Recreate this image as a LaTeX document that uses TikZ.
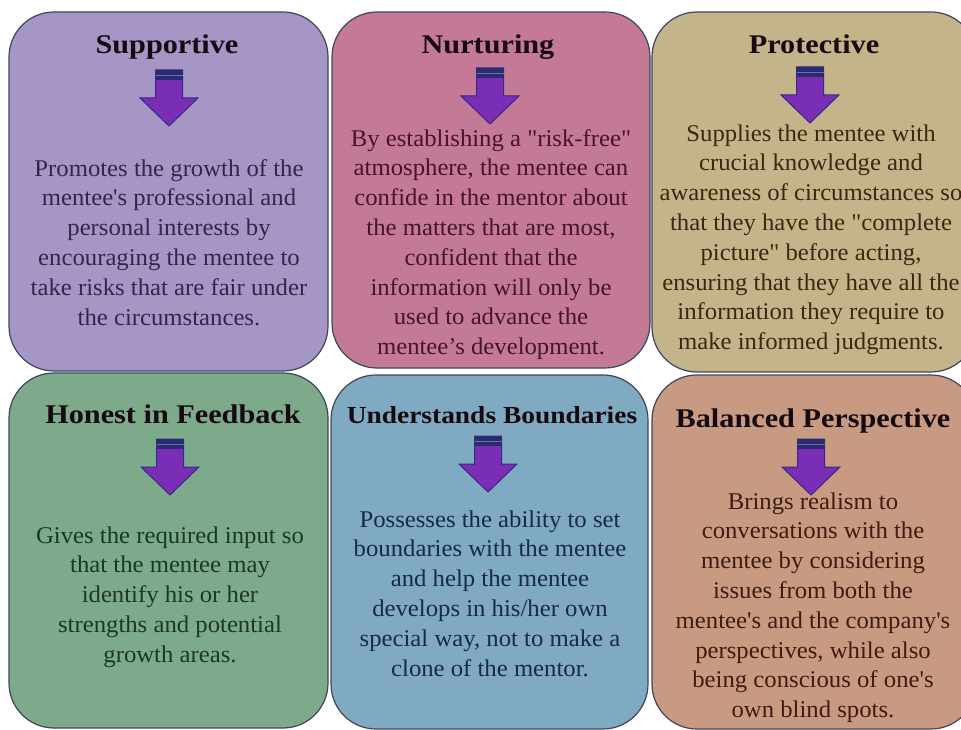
\documentclass[tikz,border=0pt]{standalone}
\usepackage{fontspec}
\setmainfont{Liberation Serif}
\newfontfamily\titlefont[FakeStretch=1.12]{Liberation Serif}
\newfontfamily\bodyfont[FakeStretch=1.03]{Liberation Serif}
\definecolor{cA}{RGB}{166,150,198}
\definecolor{cB}{RGB}{196,122,150}
\definecolor{cC}{RGB}{196,180,138}
\definecolor{cD}{RGB}{126,170,140}
\definecolor{cE}{RGB}{127,170,193}
\definecolor{cF}{RGB}{200,154,130}
\definecolor{tA}{RGB}{52,38,72}
\definecolor{tB}{RGB}{70,20,44}
\definecolor{tC}{RGB}{58,40,18}
\definecolor{tD}{RGB}{28,56,36}
\definecolor{tE}{RGB}{24,42,70}
\definecolor{tF}{RGB}{62,28,18}
\definecolor{titlecol}{RGB}{22,10,16}
\definecolor{edgecol}{RGB}{62,70,92}
\definecolor{arrowfill}{RGB}{122,46,182}
\definecolor{arrowedge}{RGB}{52,44,130}
\definecolor{arrowband}{RGB}{40,44,112}
\begin{document}
\begin{tikzpicture}[x=1pt,y=-1pt,
  card/.style={draw=edgecol,line width=1.2pt,rounded corners=45pt},
  ttl/.style={anchor=base,inner sep=0pt,text=titlecol,font=\titlefont\bfseries\fontsize{27}{32}\selectfont},
  body/.style={anchor=north,inner sep=0pt,align=center,font=\bodyfont\fontsize{24}{29.8}\selectfont},
  bigarrow/.pic={
    \filldraw[fill=arrowfill,draw=arrowedge,line width=1pt]
      (-13.5,0) -- (13.5,0) -- (13.5,28) -- (29,28) -- (0,56) -- (-29,28) -- (-13.5,28) -- cycle;
    \fill[arrowband] (-13.5,0) rectangle (13.5,10);
    \draw[cA!60!arrowband,line width=0.8pt] (-13.5,5) -- (13.5,5);
  }]
\useasboundingbox (0,0) rectangle (961,730);
\clip (0,0) rectangle (961,730);
% cards
\path[card,fill=cA] (9,12) rectangle (328,371);
\path[card,fill=cB] (332,12) rectangle (650,368);
\path[card,fill=cC] (652,12) rectangle (976,372);
\path[card,fill=cD] (9,373) rectangle (328,728);
\path[card,fill=cE] (331,375) rectangle (648,729);
\path[card,fill=cF] (652,375) rectangle (976,729);
% titles
\node[ttl] (tA) at (167,54) {Supportive};
\node[ttl] (tB) at (488,54) {Nurturing};
\node[ttl] (tC) at (814,54) {Protective};
\node[ttl] (tD) at (173,423) {Honest in Feedback};
\node[ttl,font=\titlefont\bfseries\fontsize{24.5}{30}\selectfont] (tE) at (492,423) {Understands Boundaries};
\node[ttl] (tF) at (813,427) {Balanced Perspective};
% arrows
\pic (aA) at (169,70) {bigarrow};
\pic (aB) at (490,68) {bigarrow};
\pic (aC) at (810,67) {bigarrow};
\pic (aD) at (170,439) {bigarrow};
\pic (aE) at (488,436) {bigarrow};
\pic (aF) at (811,439) {bigarrow};
% bodies
\node[body,text=tA] (bA) at (169,155) {\strut Promotes the growth of the\\ mentee's professional and\\ personal interests by\\ encouraging the mentee to\\ take risks that are fair under\\ the circumstances.};
\node[body,text=tB] (bB) at (491,125) {\strut By establishing a "risk-free"\\ atmosphere, the mentee can\\ confide in the mentor about\\ the matters that are most,\\ confident that the\\ information will only be\\ used to advance the\\ mentee’s development.};
\node[body,text=tC] (bC) at (811,120) {\strut Supplies the mentee with\\ crucial knowledge and\\ awareness of circumstances so\\ that they have the "complete\\ picture" before acting,\\ ensuring that they have all the\\ information they require to\\ make informed judgments.};
\node[body,text=tD] (bD) at (170,522) {\strut Gives the required input so\\ that the mentee may\\ identify his or her\\ strengths and potential\\ growth areas.};
\node[body,text=tE] (bE) at (490,506) {\strut Possesses the ability to set\\ boundaries with the mentee\\ and help the mentee\\ develops in his/her own\\ special way, not to make a\\ clone of the mentor.};
\node[body,text=tF] (bF) at (813,488) {\strut Brings realism to\\ conversations with the\\ mentee by considering\\ issues from both the\\ mentee's and the company's\\ perspectives, while also\\ being conscious of one's\\ own blind spots.};
\end{tikzpicture}
\end{document}
